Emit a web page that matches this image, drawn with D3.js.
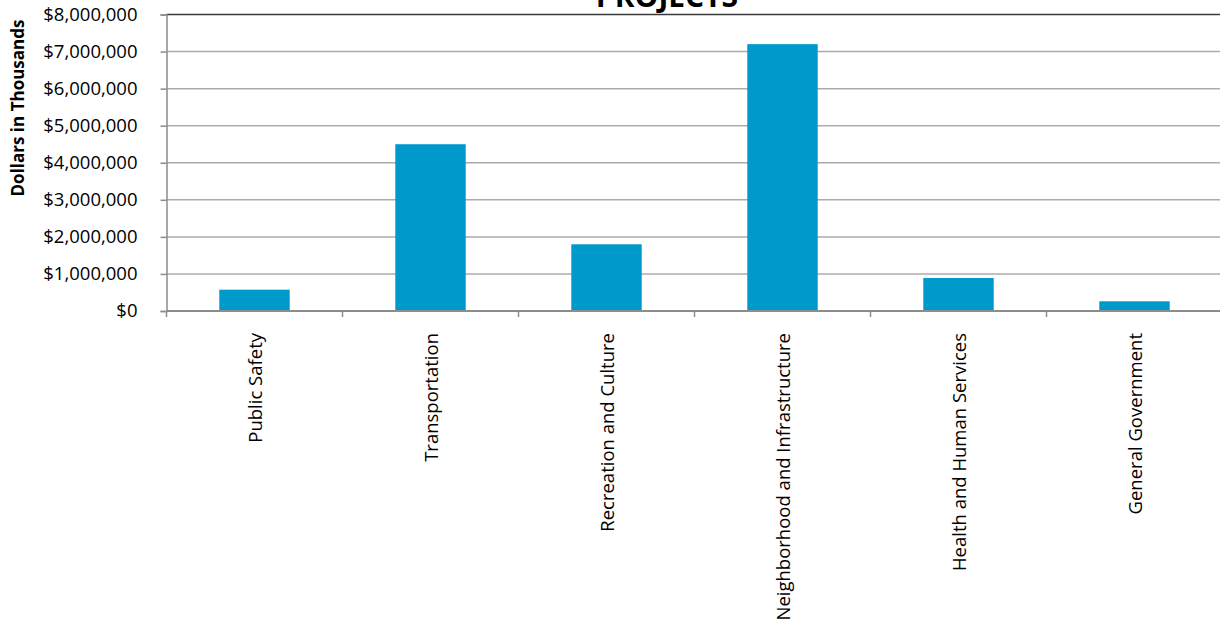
<!DOCTYPE html>
<html>
<head>
<meta charset="utf-8">
<script src="https://cdn.jsdelivr.net/npm/d3@7"></script>
<style>
  html, body { margin: 0; padding: 0; background: #fff; }
  svg { display: block; }
  text { font-family: "Open Sans", "DejaVu Sans", sans-serif; fill: #000; }
</style>
</head>
<body>
<svg id="chart" width="1220" height="623"></svg>
<script>
// Capital project spending by program area (dollars in thousands)
const categories = [
  "Public Safety",
  "Transportation",
  "Recreation and Culture",
  "Neighborhood and Infrastructure",
  "Health and Human Services",
  "General Government"
];
const values = [575000, 4500000, 1800000, 7200000, 890000, 262000];
const yTicks = [0, 1000000, 2000000, 3000000, 4000000, 5000000, 6000000, 7000000, 8000000];
const chartTitle = "PROJECTS";
const yTitle = "Dollars in Thousands";

const svg = d3.select("#chart");
const plot = { left: 166.5, right: 1222.5, top: 14.5, bottom: 311 };

const x = d3.scaleBand()
  .domain(categories)
  .range([plot.left, plot.right])
  .paddingInner(0.6)
  .paddingOuter(0.3);

const y = d3.scaleLinear()
  .domain([0, 8000000])
  .range([plot.bottom, plot.top]);

// horizontal gridlines
svg.append("g")
  .selectAll("line")
  .data(yTicks.slice(1, -1))
  .join("line")
  .attr("x1", plot.left)
  .attr("x2", plot.right)
  .attr("y1", d => y(d))
  .attr("y2", d => y(d))
  .attr("stroke", "#ababab")
  .attr("stroke-width", 1.5);

// top border of the plot area
svg.append("line")
  .attr("x1", plot.left)
  .attr("x2", plot.right)
  .attr("y1", y(8000000))
  .attr("y2", y(8000000))
  .attr("stroke", "#3a3a3a")
  .attr("stroke-width", 1.5);

// bars
svg.append("g")
  .selectAll("rect")
  .data(categories.map((c, i) => ({ c, v: values[i] })))
  .join("rect")
  .attr("x", d => x(d.c))
  .attr("width", x.bandwidth())
  .attr("y", d => y(d.v))
  .attr("height", d => y(0) - y(d.v))
  .attr("fill", "#0099cc");

// y axis
const yAxis = d3.axisLeft(y)
  .tickValues(yTicks)
  .tickSize(6)
  .tickPadding(23)
  .tickFormat(d => "$" + d3.format(",")(d));

const gy = svg.append("g")
  .attr("transform", `translate(${plot.left},0)`)
  .call(yAxis);
gy.select(".domain").attr("stroke", "#8c8c8c").attr("stroke-width", 1.5);
gy.selectAll(".tick line").attr("stroke", "#8c8c8c").attr("stroke-width", 1.5);
gy.selectAll(".tick text")
  .style("font-family", "'Open Sans', sans-serif")
  .style("font-size", "18.5px")
  .attr("fill", "#000");

// x axis: ticks sit on the category boundaries
const boundaries = d3.range(categories.length + 1).map(i => plot.left + i * (plot.right - plot.left) / categories.length);
const gx = svg.append("g");
gx.append("line")
  .attr("x1", plot.left)
  .attr("x2", plot.right)
  .attr("y1", plot.bottom)
  .attr("y2", plot.bottom)
  .attr("stroke", "#8c8c8c")
  .attr("stroke-width", 2);
gx.selectAll("line.tick")
  .data(boundaries)
  .join("line")
  .attr("class", "tick")
  .attr("x1", d => d)
  .attr("x2", d => d)
  .attr("y1", plot.bottom)
  .attr("y2", plot.bottom + 6)
  .attr("stroke", "#8c8c8c")
  .attr("stroke-width", 1.5);

// rotated category labels
gx.selectAll("text")
  .data(categories)
  .join("text")
  .attr("transform", d => `translate(${x(d) + x.bandwidth() / 2 + 7},${plot.bottom + 22}) rotate(-90)`)
  .attr("text-anchor", "end")
  .style("font-size", "18.5px")
  .text(d => d);

// y axis title
svg.append("text")
  .attr("transform", `translate(24,108) rotate(-90)`)
  .attr("text-anchor", "middle")
  .style("font-size", "17px")
  .style("font-weight", "bold")
  .text(yTitle);

// chart title
svg.append("text")
  .attr("x", 667)
  .attr("y", 7)
  .attr("text-anchor", "middle")
  .style("font-size", "30px")
  .style("font-weight", "bold")
  .text(chartTitle);
</script>
</body>
</html>
